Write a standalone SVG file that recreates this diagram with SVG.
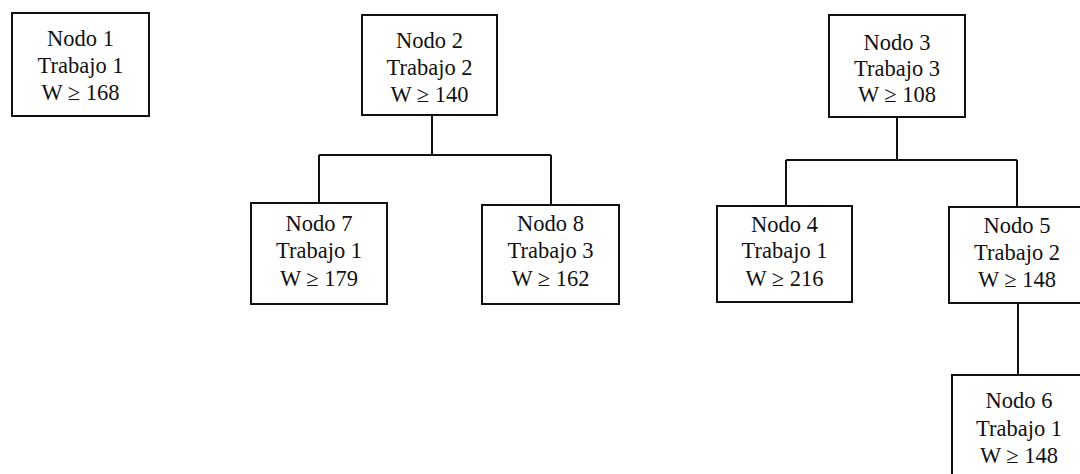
<svg xmlns="http://www.w3.org/2000/svg" width="1080" height="474" viewBox="0 0 1080 474">
<style>
.box{fill:#fff;stroke:#111;stroke-width:2}
.ln{fill:none;stroke:#111;stroke-width:2}
text{font-family:"Liberation Serif","Times New Roman",serif;font-size:22.5px;fill:#111;text-anchor:middle}
</style>
<rect width="1080" height="474" fill="#fff"/>
<g id="connectors">
<path class="ln" d="M432 115V155M319 155H551M319 155V203M551 155V205"/>
<path class="ln" d="M897 117V160M786 160H1017M786 160V206M1017 160V207"/>
<path class="ln" d="M1018 303V375"/>
</g>
<g id="node1"><rect class="box" x="12" y="13" width="137" height="103"/>
<text x="80.5" y="46">Nodo 1</text><text x="80.5" y="73">Trabajo 1</text><text x="80.5" y="100">W ≥ 168</text></g>
<g id="node2"><rect class="box" x="362" y="15" width="135" height="100"/>
<text x="429.5" y="48">Nodo 2</text><text x="429.5" y="75">Trabajo 2</text><text x="429.5" y="102">W ≥ 140</text></g>
<g id="node3"><rect class="box" x="829" y="15" width="136" height="102"/>
<text x="897" y="50">Nodo 3</text><text x="897" y="76">Trabajo 3</text><text x="897" y="102">W ≥ 108</text></g>
<g id="node7"><rect class="box" x="251" y="203" width="136" height="101"/>
<text x="319" y="231">Nodo 7</text><text x="319" y="258">Trabajo 1</text><text x="319" y="286">W ≥ 179</text></g>
<g id="node8"><rect class="box" x="482" y="205" width="137" height="99"/>
<text x="550.5" y="231">Nodo 8</text><text x="550.5" y="258">Trabajo 3</text><text x="550.5" y="286">W ≥ 162</text></g>
<g id="node4"><rect class="box" x="717" y="206" width="135" height="96"/>
<text x="784.5" y="232">Nodo 4</text><text x="784.5" y="258">Trabajo 1</text><text x="784.5" y="286">W ≥ 216</text></g>
<g id="node5"><rect class="box" x="949" y="207" width="137" height="96"/>
<text x="1017" y="233">Nodo 5</text><text x="1017" y="260">Trabajo 2</text><text x="1017" y="287">W ≥ 148</text></g>
<g id="node6"><rect class="box" x="952" y="375" width="137" height="110"/>
<text x="1019" y="408">Nodo 6</text><text x="1019" y="436">Trabajo 1</text><text x="1019" y="463">W ≥ 148</text></g>
</svg>
